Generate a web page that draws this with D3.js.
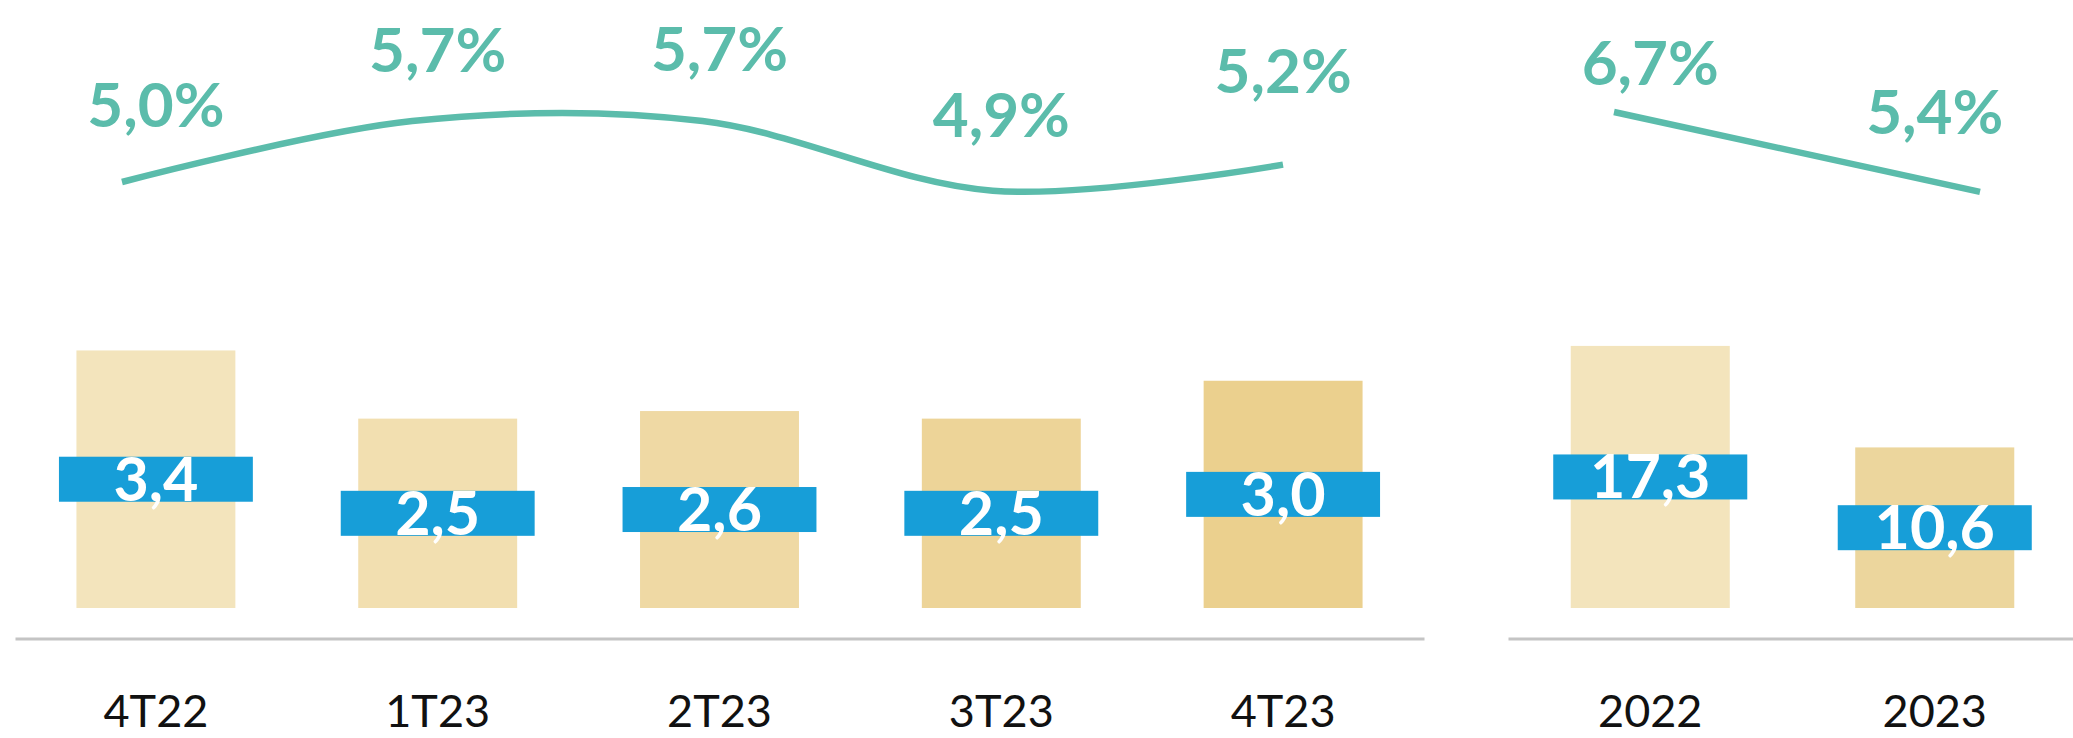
<!DOCTYPE html>
<html>
<head>
<meta charset="utf-8">
<script src="https://cdn.jsdelivr.net/npm/d3@7"></script>
<style>
  html, body { margin: 0; padding: 0; background: #fff; }
  svg { display: block; font-family: "Lato", "Open Sans", sans-serif; }
</style>
</head>
<body>
<div id="chart"></div>
<script>
// quarterly panel
var quarters = ["4T22", "1T23", "2T23", "3T23", "4T23"];
var quarterValues = [3.4, 2.5, 2.6, 2.5, 3.0];
var quarterRates = [5.0, 5.7, 5.7, 4.9, 5.2];

// annual panel
var years = ["2022", "2023"];
var yearValues = [17.3, 10.6];
var yearRates = [6.7, 5.4];

var width = 2073, height = 738;
var baseY = 608, axisY = 638.5;

var quarterFill = ["#f3e4bc", "#f2dfb0", "#efd9a4", "#edd498", "#ebd08e"];
var yearFill = ["#f3e4bc", "#ecd69d"];
var lineColor = "#5bbcab";
var boxColor = "#179ed8";

function fmt(v) { return d3.format(".1f")(v).replace(".", ","); }

var svg = d3.select("#chart")
    .append("svg")
    .attr("width", width)
    .attr("height", height);

function drawPanel(cats, values, rates, fills, opts) {

    var x = d3.scaleBand().domain(cats).range(opts.xRange)
        .paddingInner(opts.pad).paddingOuter(opts.pad / 2);
    var y = d3.scaleLinear().domain(opts.yDomain).range([baseY, 305]);
    var xLine = d3.scalePoint().domain(cats).range(opts.lineRange);
    var yLine = d3.scaleLinear().domain(opts.rateDomain).range(opts.rateRange);

    var data = cats.map(function (c, i) {
        return { cat: c, value: values[i], rate: rates[i], fill: fills[i], lift: opts.lift[i] };
    });

    // axis
    var axis = svg.append("g")
        .attr("class", "x axis")
        .attr("transform", "translate(0," + axisY + ")")
        .call(d3.axisBottom(x).tickSize(0));
    axis.select(".domain")
        .attr("stroke", "#c4c4c4")
        .attr("stroke-width", 3);
    axis.selectAll("text")
        .attr("y", 88)
        .attr("dy", null)
        .style("font-family", "Lato, 'Open Sans', sans-serif")
        .style("font-size", "45px")
        .style("fill", "#111");

    // bars
    svg.selectAll(null)
        .data(data)
        .enter()
        .append("rect")
        .attr("x", function (d) { return x(d.cat); })
        .attr("y", function (d) { return y(d.value); })
        .attr("width", x.bandwidth())
        .attr("height", function (d) { return baseY - y(d.value); })
        .style("fill", function (d) { return d.fill; });

    // blue value boxes at mid height
    var boxW = x.bandwidth() * 1.22, boxH = 45;
    var boxes = svg.selectAll(null)
        .data(data)
        .enter()
        .append("g")
        .attr("transform", function (d) {
            var mid = (y(d.value) + baseY) / 2;
            return "translate(" + (x(d.cat) + x.bandwidth() / 2) + "," + mid + ")";
        });
    boxes.append("rect")
        .attr("x", -boxW / 2)
        .attr("y", -boxH / 2)
        .attr("width", boxW)
        .attr("height", boxH)
        .style("fill", boxColor);
    boxes.append("text")
        .attr("text-anchor", "middle")
        .attr("y", boxH / 2 - 1)
        .style("font-size", "61px")
        .style("font-weight", 700)
        .style("fill", "#fff")
        .text(function (d) { return fmt(d.value); });

    // rate line
    var line = d3.line()
        .x(function (d) { return xLine(d.cat); })
        .y(function (d) { return yLine(d.rate); })
        .curve(opts.smooth ? d3.curveCardinal.tension(0) : d3.curveLinear);

    svg.append("path")
        .datum(data)
        .attr("d", line)
        .attr("fill", "none")
        .attr("stroke", lineColor)
        .attr("stroke-width", 6.5);

    svg.selectAll(null)
        .data(data)
        .enter()
        .append("text")
        .attr("x", function (d) { return x(d.cat) + x.bandwidth() / 2; })
        .attr("y", function (d) { return yLine(d.rate) - d.lift; })
        .attr("text-anchor", "middle")
        .style("font-size", "62px")
        .style("font-weight", 700)
        .style("fill", lineColor)
        .text(function (d) { return fmt(d.rate) + "%"; });
}

drawPanel(quarters, quarterValues, quarterRates, quarterFill, {
    xRange: [15, 1424], pad: 0.436, yDomain: [0, 4],
    lineRange: [122, 1283], rateDomain: [4, 6], rateRange: [269, 95],
    lift: [55, 49, 50, 54, 72], smooth: true
});

drawPanel(years, yearValues, yearRates, yearFill, {
    xRange: [1508, 2077], pad: 0.441, yDomain: [0, 20],
    lineRange: [1614, 1980], rateDomain: [4, 7], rateRange: [278, 93.5],
    lift: [27, 58], smooth: false
});
</script>
</body>
</html>
